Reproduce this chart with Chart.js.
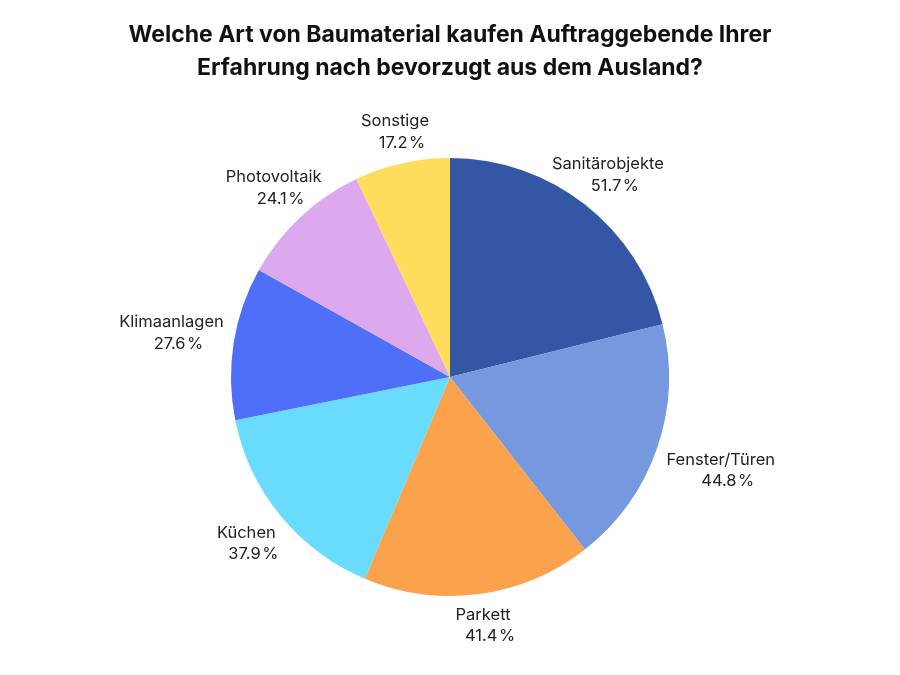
<!DOCTYPE html>
<html>
<head>
<meta charset="utf-8">
<script src="https://cdn.jsdelivr.net/npm/chart.js@4"></script>
<style>
  html, body { margin: 0; padding: 0; background: #ffffff; }
  canvas { display: block; }
</style>
</head>
<body>
<canvas id="c" width="900" height="675"></canvas>
<script>
const categories = ["Sanitärobjekte", "Fenster/Türen", "Parkett", "Küchen", "Klimaanlagen", "Photovoltaik", "Sonstige"];
const values = [51.7, 44.8, 41.4, 37.9, 27.6, 24.1, 17.2];
const colors = ["#3357A5", "#7598DE", "#FBA24C", "#69DBFD", "#4F6FF8", "#DEA8EF", "#FEDC5C"];
const titleLines = ["Welche Art von Baumaterial kaufen Auftraggebende Ihrer", "Erfahrung nach bevorzugt aus dem Ausland?"];

function fmt(v) { return v.toFixed(1) + "\u200A%"; }

const outsideLabels = {
  id: 'outsideLabels',
  afterDraw(chart) {
    const ctx = chart.ctx;
    const meta = chart.getDatasetMeta(0);
    const font = '16.5px Inter';
    const lineH = 21.5;
    const offset = 10;
    ctx.save();
    ctx.font = font;
    ctx.fillStyle = '#222222';
    ctx.textAlign = 'center';
    ctx.textBaseline = 'middle';
    meta.data.forEach((arc, i) => {
      const p = arc.getProps(['x', 'y', 'startAngle', 'endAngle', 'outerRadius'], true);
      const mid = (p.startAngle + p.endAngle) / 2;
      const ux = Math.cos(mid), uy = Math.sin(mid);
      const l1 = categories[i], l2 = fmt(values[i]);
      const w = Math.max(ctx.measureText(l1).width, ctx.measureText(l2).width);
      const hw = w / 2, hh = lineH;
      const d = Math.min(Math.abs(ux) > 1e-6 ? hw / Math.abs(ux) : 1e9, Math.abs(uy) > 1e-6 ? hh / Math.abs(uy) : 1e9);
      const R = p.outerRadius + offset + d;
      const cx = p.x + ux * R, cy = p.y + uy * R;
      ctx.fillText(l1, cx, cy - lineH / 2);
      ctx.fillText(l2, cx + 7, cy + lineH / 2);
    });
    ctx.restore();
  }
};

new Chart(document.getElementById('c'), {
  type: 'pie',
  data: {
    labels: categories,
    datasets: [{
      data: values,
      backgroundColor: colors,
      borderWidth: 0
    }]
  },
  options: {
    responsive: false,
    animation: false,
    layout: { padding: { top: 0, bottom: 79, left: 0, right: 0 } },
    plugins: {
      legend: { display: false },
      tooltip: { enabled: false },
      title: {
        display: true,
        text: titleLines,
        color: '#111111',
        font: { family: 'Inter', size: 23, weight: 'bold', lineHeight: 1.45 },
        padding: { top: 18, bottom: 73.3 }
      }
    }
  },
  plugins: [outsideLabels]
});
</script>
</body>
</html>
